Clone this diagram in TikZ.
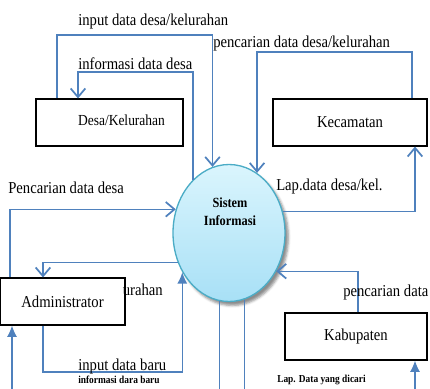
\documentclass[tikz,border=0pt]{standalone}
\usepackage{fontspec}
\setmainfont{Liberation Serif}
\newfontfamily\narrowserif[FakeStretch=0.88]{Liberation Serif}
\usetikzlibrary{arrows.meta, shapes.geometric, shadows.blur}
\definecolor{flowblue}{RGB}{79,129,189}
\definecolor{sisline}{RGB}{75,172,198}
\definecolor{sistop}{RGB}{218,245,253}
\definecolor{sisbot}{RGB}{168,224,246}
\tikzset{
  entity/.style={
    rectangle, draw=black, line width=0.8pt, fill=white, inner sep=0pt,
    minimum height=35.25pt, font=\narrowserif\fontsize{12.5}{14}\selectfont
  },
  process/.style={
    ellipse, draw=sisline, line width=1pt, top color=sistop, bottom color=sisbot,
    minimum width=84pt, minimum height=102.75pt, inner sep=0pt,
    blur shadow={shadow xshift=2.5pt, shadow yshift=-3pt, shadow opacity=45}
  },
  flow/.style={draw=flowblue, line width=1.1pt},
  openhead/.style={flow, -{Straight Barb[length=6.5pt,width=11pt,line width=1.3pt]}},
  fullhead/.style={flow, -{Latex[length=8.5pt,width=7.5pt]}},
  lbl/.style={anchor=west, inner sep=0pt, font=\narrowserif\fontsize{12.5}{14}\selectfont},
  tinylbl/.style={anchor=west, inner sep=0pt, font=\narrowserif\fontsize{8}{9}\selectfont\bfseries}
}

\begin{document}
\begin{tikzpicture}[x=0.75pt, y=-0.75pt]
\useasboundingbox (0,0) rectangle (430,389);

% entitas luar dan proses
\node[entity, minimum width=110.25pt, font=\narrowserif\fontsize{11.5}{13}\selectfont] (desa) at (109.5,122.5) {\raisebox{3pt}{\hspace*{18pt}Desa/Kelurahan}};
\node[entity, minimum width=115.5pt] (kec) at (350,122.5) {Kecamatan};
\node[entity, minimum width=93.75pt] (admin) at (62.5,301.5) {Administrator};
\node[entity, minimum width=106.5pt] (kab) at (356,336.5) {Kabupaten};
\node[process] (sistem) at (229,233) {};
\node[align=center, inner sep=0pt, font=\narrowserif\fontsize{10.5}{13.5}\selectfont\bfseries] (sislbl) at (230,212) {Sistem\\Informasi};

% titik bantu
\coordinate (a1) at (57,35);
\coordinate (b1) at (78,72);
\coordinate (c1) at (412,52);
\coordinate (d1) at (415,211);
\coordinate (e1) at (10,210);
\coordinate (f1) at (43,262);
\coordinate (g1) at (183,372);
\coordinate (h1) at (12,389);
\coordinate (k1) at (358,271);
\coordinate (m1) at (415,389);

% aliran data
\draw[openhead] (desa.north -| a1) -- (a1) -| (sistem.104);
\draw[openhead] (sistem.124) |- (b1) -- (desa.north -| b1);
\draw[openhead] (kec.north -| c1) -- (c1) -| (sistem.65);
\draw[openhead] (sistem.22) -| (kec.south -| d1);
\draw[openhead] (admin.north -| e1) |- (sistem.156);
\draw[openhead] (sistem.210) -| (admin.north -| f1);
\draw[fullhead] (admin.south -| f1) |- (sistem.220 |- g1) -- (sistem.220);
\draw[fullhead] (h1) -- (admin.south -| h1);
\draw[flow] (sistem.262) -- (sistem.262 |- h1);
\draw[flow] (sistem.283) -- (sistem.283 |- h1);
\draw[openhead] (kab.north -| k1) |- (sistem.321);
\draw[fullhead] (m1) -- (kab.south -| m1);

% label aliran
\node[lbl] (lInputDesa) at (78,21) {input data desa/kelurahan};
\node[lbl] (lInfoDesa) at (78,64) {informasi data desa};
\node[lbl] (lCariKec) at (213,43) {pencarian data desa/kelurahan};
\node[lbl] (lLapKec) at (276,186) {Lap.data desa/kel.};
\node[lbl] (lCariAdm) at (8,188) {Pencarian data desa};
\node[lbl, anchor=east] (lInfoAdm) at (163,290) {urahan};
\node[lbl] (lInputBaru) at (78,366) {input data baru};
\node[tinylbl] (lInfoBaru) at (78,380) {informasi dara baru};
\node[lbl] (lCariKab) at (343,292) {pencarian data};
\node[tinylbl] (lLapKab) at (277,380) {Lap. Data yang dicari};
\end{tikzpicture}
\end{document}
